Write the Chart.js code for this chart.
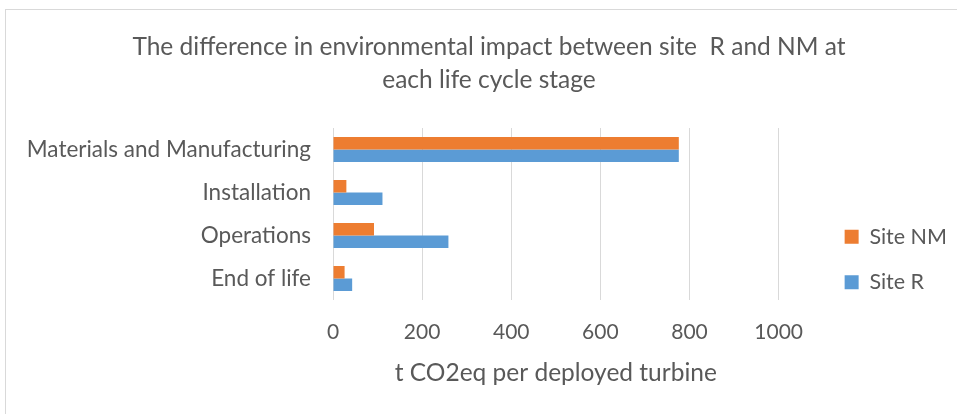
<!DOCTYPE html>
<html>
<head>
<meta charset="utf-8">
<script src="https://cdn.jsdelivr.net/npm/chart.js@4/dist/chart.umd.min.js"></script>
<style>
  html, body { margin: 0; padding: 0; background: #fff; overflow: hidden; }
  #wrap { position: relative; width: 957px; height: 414px; }
  #frame {
    position: absolute; left: 5px; top: 9px; width: 1000px; height: 500px;
    border-left: 1px solid #d9d9d9; border-top: 1px solid #d9d9d9;
    pointer-events: none;
  }
</style>
</head>
<body>
<div id="wrap">
  <canvas id="myChart" width="957" height="414"></canvas>
  <div id="frame"></div>
</div>
<script>
const stages = ['Materials and Manufacturing', 'Installation', 'Operations', 'End of life'];
const siteNM = [776, 30, 92, 26];
const siteR = [776, 111, 259, 43];
const xTicks = [0, 200, 400, 600, 800, 1000];

const textColor = '#595959';
const fontName = 'Lato';

function setup(){
    const ctx = document.getElementById('myChart');

    new Chart(ctx, {
        type: 'bar',
        data: {
            labels: stages,
            datasets: [{
                label: 'Site NM',
                data: siteNM,
                backgroundColor: '#ED7D31'
            }, {
                label: 'Site R',
                data: siteR,
                backgroundColor: '#5B9BD5'
            }]
        },
        options: {
            indexAxis: 'y',
            responsive: false,
            animation: false,
            events: [],
            datasets: {
                bar: { categoryPercentage: 0.58, barPercentage: 1.0 }
            },
            layout: { padding: { left: 21, right: 0, top: 0, bottom: 0 } },
            scales: {
                x: {
                    min: 0,
                    max: 1000,
                    afterBuildTicks: scale => { scale.ticks = xTicks.map(v => ({ value: v })); },
                    afterFit: scale => { scale.height = 114; },
                    grid: { color: '#d9d9d9', lineWidth: 1, drawTicks: false },
                    border: { display: false },
                    ticks: {
                        color: textColor,
                        font: { family: fontName, size: 21 },
                        padding: 20,
                        callback: v => String(v)
                    },
                    title: {
                        display: true,
                        text: 't CO2eq per deployed turbine',
                        color: textColor,
                        font: { family: fontName, size: 24.5 },
                        padding: { top: 4, bottom: 26 }
                    }
                },
                y: {
                    afterFit: scale => { scale.width = 312; },
                    grid: { display: false, drawTicks: false },
                    border: { display: false },
                    ticks: { color: textColor, font: { family: fontName, size: 22.5 }, padding: 22 }
                },
                // empty spacer between the plot and the legend
                y2: {
                    position: 'right',
                    afterFit: scale => { scale.width = 42; },
                    grid: { display: false, drawTicks: false },
                    border: { display: false },
                    ticks: { display: false }
                }
            },
            plugins: {
                title: {
                    display: true,
                    text: ['The difference in environmental impact between site  R and NM at', 'each life cycle stage'],
                    color: textColor,
                    font: { family: fontName, size: 24.5, weight: 'normal', lineHeight: 33 / 24.5 },
                    padding: { top: 30.5, bottom: 31.5 }
                },
                legend: {
                    position: 'right',
                    align: 'start',
                    title: { display: true, text: '', font: { size: 10, lineHeight: 1 }, padding: { top: 192, bottom: 0 } },
                    labels: {
                        color: textColor,
                        font: { family: fontName, size: 21.5 },
                        boxWidth: 14,
                        boxHeight: 14,
                        padding: 24
                    }
                },
                tooltip: { enabled: false }
            }
        }
    });
}

window.onload = setup;
</script>
</body>
</html>
